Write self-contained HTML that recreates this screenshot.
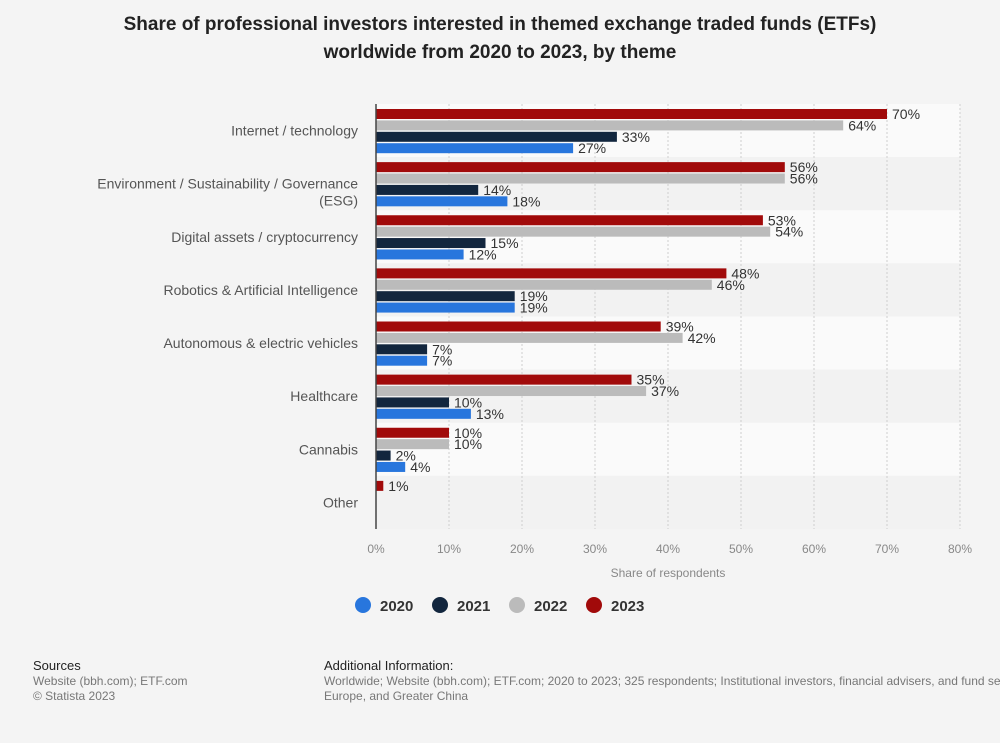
<!DOCTYPE html>
<html><head><meta charset="utf-8"><style>
body{margin:0;background:#f4f4f4;font-family:"Liberation Sans",sans-serif;}
#wrap{position:relative;width:1000px;height:743px;overflow:hidden;}
.title{position:absolute;left:0;width:1000px;top:11px;text-align:center;font-weight:bold;font-size:19px;line-height:28px;color:#222;}
.foot{position:absolute;font-size:12px;color:#777;line-height:15px;white-space:nowrap;}
.foot b{font-weight:normal;color:#222;font-size:13px;}
</style></head><body>
<div id="wrap">
<div class="title">Share of professional investors interested in themed exchange traded funds (ETFs)<br>worldwide from 2020 to 2023, by theme</div>
<svg id="chart" width="1000" height="743" style="position:absolute;left:0;top:0"></svg>
<div class="foot" style="left:33px;top:658px"><b>Sources</b><br>Website (bbh.com); ETF.com<br>© Statista 2023</div>
<div class="foot" style="left:324px;top:658px"><b>Additional Information:</b><br>Worldwide; Website (bbh.com); ETF.com; 2020 to 2023; 325 respondents; Institutional investors, financial advisers, and fund selectors in the United States,<br>Europe, and Greater China</div>
</div>
<script>
const categories=["Internet / technology","Environment / Sustainability / Governance|(ESG)","Digital assets / cryptocurrency","Robotics & Artificial Intelligence","Autonomous & electric vehicles","Healthcare","Cannabis","Other"];
const years=["2023","2022","2021","2020"];
const v2023=[70,56,53,48,39,35,10,1];
const v2022=[64,56,54,46,42,37,10,null];
const v2021=[33,14,15,19,7,10,2,null];
const v2020=[27,18,12,19,7,13,4,null];
const ticks=[0,10,20,30,40,50,60,70,80];
const series=[v2023,v2022,v2021,v2020];
const colors=["#a10a0a","#bbbbbb","#12263e","#2876dd"];
const legendYears=["2020","2021","2022","2023"];
const legendColors=["#2876dd","#12263e","#bbbbbb","#a10a0a"];
const svg=document.getElementById('chart');const NS='http://www.w3.org/2000/svg';
const x0=376,x80=960,yTop=104,yBot=529;
const band=(yBot-yTop)/categories.length;
const xs=v=>x0+(x80-x0)*v/80;
function mk(t,a,p){const e=document.createElementNS(NS,t);for(const k in a)e.setAttribute(k,a[k]);(p||svg).appendChild(e);return e;}
categories.forEach((c,i)=>{
 const r=mk('rect',{x:x0,y:yTop+i*band,width:x80-x0,height:band,fill:i%2?'#f2f2f2':'#fafafa'});
 
 
});
ticks.forEach(t=>{
 if(t>0){const l=mk('line',{x1:xs(t),x2:xs(t),y1:yTop,y2:yBot,stroke:'#cfcfcf','stroke-dasharray':'2,2'});
 
 }
 const tx=mk('text',{x:xs(t),y:553,'text-anchor':'middle','font-size':12,fill:'#888'});tx.textContent=t+'%';
 
 
});
categories.forEach((c,i)=>{
 const parts=c.split('|');const cy=yTop+i*band+band/2;
 parts.forEach((p,j)=>{const t=mk('text',{x:358,y:cy+j*17+5,'text-anchor':'end','font-size':14,fill:'#555'});t.textContent=p;
 
 });
 series.forEach((s,k)=>{
  const v=s[i];if(v==null)return;
  const y=yTop+i*band+5+k*11.4;
  const b=mk('rect',{x:x0,y:y,width:xs(v)-x0,height:10,fill:colors[k]});
  
  
  const t=mk('text',{x:xs(v)+5,y:y+10,'font-size':14,fill:'#333'});t.textContent=v+'%';
  
  
 });
});
const ax=mk('line',{x1:x0,x2:x0,y1:yTop,y2:yBot,stroke:'#444','stroke-width':1.5});


const xt=mk('text',{x:668,y:577,'text-anchor':'middle','font-size':12,fill:'#888'});xt.textContent='Share of respondents';


const lx=[363,440,517,594];
legendYears.forEach((yr,i)=>{
 const g=mk('g',{});
 
 
 mk('circle',{cx:lx[i],cy:605,r:8,fill:legendColors[i]},g);
 const t=mk('text',{x:lx[i]+17,y:611,'font-size':15,'font-weight':'bold',fill:'#333'},g);t.textContent=yr;
});
</script>
</body></html>
